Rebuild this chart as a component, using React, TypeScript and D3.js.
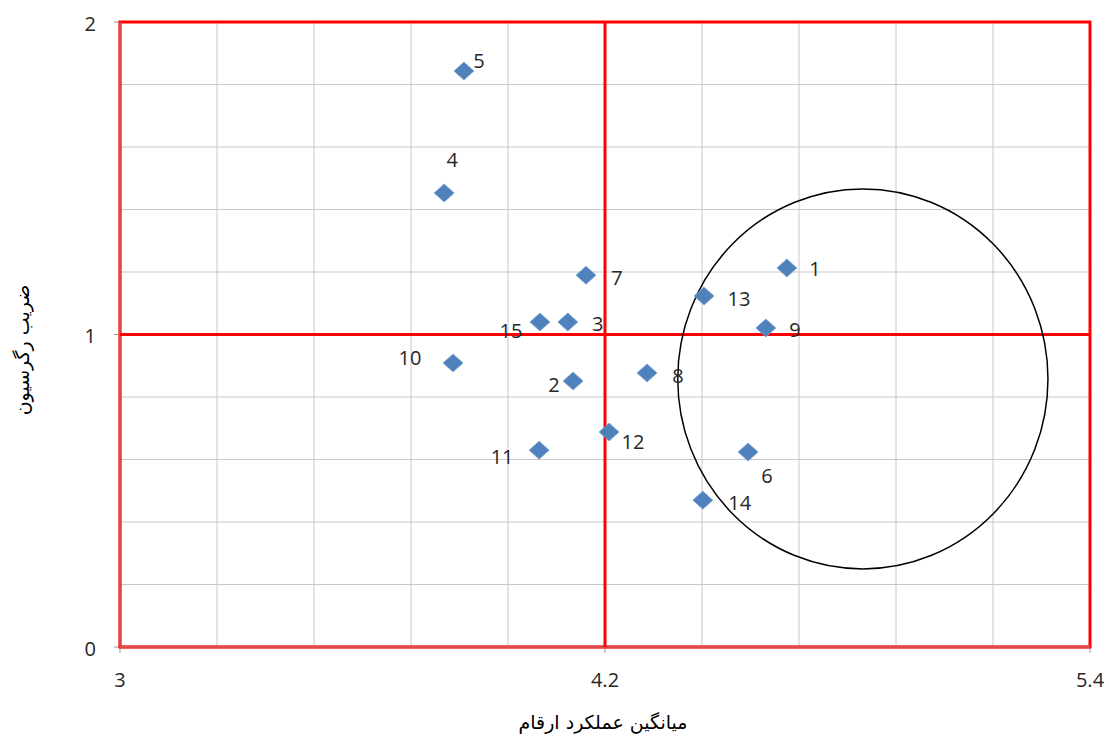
import React from "react";
import * as d3 from "d3";

const pointIds = [1, 2, 3, 4, 5, 6, 7, 8, 9, 10, 11, 12, 13, 14, 15];
const avgPerf = [4.65, 4.121, 4.108, 3.802, 3.851, 4.554, 4.153, 4.304, 4.598, 3.824, 4.037, 4.21, 4.445, 4.442, 4.039];
const regCoef = [1.213, 0.851, 1.04, 1.453, 1.843, 0.624, 1.19, 0.877, 1.021, 0.909, 0.63, 0.688, 1.123, 0.47, 1.04];
const xTicks = [3, 4.2, 5.4];
const yTicks = [0, 1, 2];
const xLabel = "میانگین عملکرد ارقام";
const yLabel = "ضریب رگرسیون";
// label placement offsets (px), style only
const labelOffsets: [number, number][] = [
  [28, 1], [-19, 3], [30, 1], [8, -33], [15, -11], [19, 23], [31, 2], [31, 3],
  [29, 2], [-43, -5], [-37, 6], [24, 9], [35, 2], [37, 2], [-29, 8],
];
const ellipse = { cx: 4.838, cy: 0.858, rx: 0.458, ry: 0.608 };

const W = 1109, H = 738;
const L = 120, R = 1090, T = 22, B = 647;

export default function App() {
  const x = d3.scaleLinear().domain([3, 5.4]).range([L, R]);
  const y = d3.scaleLinear().domain([0, 2]).range([B, T]);
  const xGrid = d3.range(0, 11).map((i) => 3 + i * 0.24);
  const yGrid = d3.range(0, 11).map((i) => i * 0.2);
  const numFont = "'Open Sans', 'Liberation Sans', sans-serif";
  const faFont = "'DejaVu Sans', sans-serif";
  const sx = 10, sy = 9;
  const diamond = d3.line()([[0, -sy], [sx, 0], [0, sy], [-sx, 0]]) + "Z";
  return (
    <svg width={W} height={H} style={{ position: "absolute", left: 0, top: 0, background: "#fff" }} fontFamily={numFont}>
      {xGrid.map((v, i) => (
        <line key={"xg" + i} x1={x(v)} x2={x(v)} y1={T} y2={B} stroke="#c8c8c8" strokeWidth={1} />
      ))}
      {yGrid.map((v, i) => (
        <line key={"yg" + i} x1={L} x2={R} y1={y(v)} y2={y(v)} stroke="#c8c8c8" strokeWidth={1} />
      ))}
      {xTicks.map((v, i) => (
        <line key={"xt" + i} x1={x(v)} x2={x(v)} y1={B} y2={B + 6} stroke="#999" />
      ))}
      {yTicks.map((v, i) => (
        <line key={"yt" + i} x1={L - 6} x2={L} y1={y(v)} y2={y(v)} stroke="#999" />
      ))}
      <rect x={L} y={T} width={R - L} height={B - T} fill="none" stroke="#ff0000" strokeWidth={3} />
      <line x1={L} x2={L} y1={T} y2={B} stroke="#e04848" strokeWidth={3} />
      <line x1={L} x2={R} y1={B} y2={B} stroke="#e04848" strokeWidth={3} />
      <line x1={x(4.2)} x2={x(4.2)} y1={T} y2={B} stroke="#ff0000" strokeWidth={3} />
      <line x1={L} x2={R} y1={y(1)} y2={y(1)} stroke="#ff0000" strokeWidth={3} />
      <ellipse
        cx={x(ellipse.cx)}
        cy={y(ellipse.cy)}
        rx={x(ellipse.cx + ellipse.rx) - x(ellipse.cx)}
        ry={y(ellipse.cy - ellipse.ry) - y(ellipse.cy)}
        fill="none"
        stroke="#000"
        strokeWidth={1.5}
      />
      {pointIds.map((id, i) => (
        <path
          key={"p" + id}
          d={diamond}
          transform={`translate(${x(avgPerf[i])},${y(regCoef[i])})`}
          fill="#4f81bd"
          stroke="#7fa3d3"
          strokeWidth={0.8}
        />
      ))}
      {pointIds.map((id, i) => (
        <text
          key={"l" + id}
          x={x(avgPerf[i]) + labelOffsets[i][0]}
          y={y(regCoef[i]) + labelOffsets[i][1]}
          textAnchor="middle"
          dominantBaseline="central"
          fontSize={20}
          fill="#262626"
        >
          {id}
        </text>
      ))}
      {xTicks.map((v, i) => (
        <text key={"xl" + i} x={x(v)} y={679} textAnchor="middle" dominantBaseline="central" fontSize={20} fill="#262626">
          {v}
        </text>
      ))}
      {yTicks.map((v, i) => (
        <text key={"yl" + i} x={L - 24} y={y(v) + 1} textAnchor="end" dominantBaseline="central" fontSize={20} fill="#262626">
          {v}
        </text>
      ))}
      <text x={603} y={729} textAnchor="middle" fontSize={19} fill="#000" direction="rtl" fontFamily={faFont}>
        {xLabel}
      </text>
      <text
        transform={`translate(22,350) rotate(-90)`}
        textAnchor="middle"
        dominantBaseline="central"
        fontSize={19}
        fill="#000"
        direction="rtl"
        fontFamily={faFont}
      >
        {yLabel}
      </text>
    </svg>
  );
}
